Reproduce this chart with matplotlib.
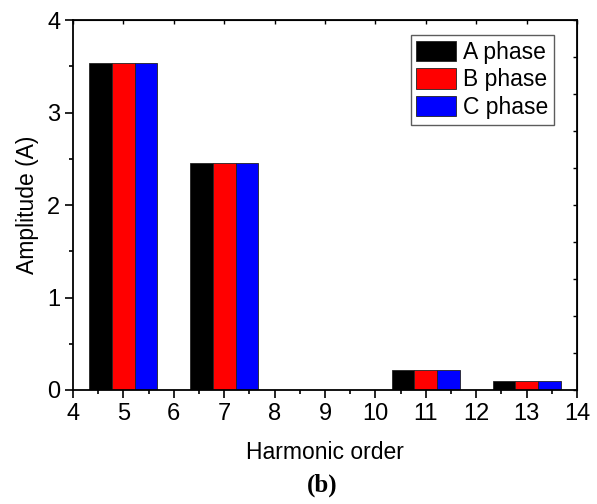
import matplotlib.pyplot as plt
import numpy as np
from matplotlib.ticker import MultipleLocator

plt.rcParams["font.family"] = ["Liberation Sans", "DejaVu Sans"]

# harmonic amplitudes per phase
orders = [5, 7, 11, 13]
phase_a = [3.54, 2.45, 0.215, 0.10]
phase_b = [3.54, 2.45, 0.215, 0.10]
phase_c = [3.54, 2.45, 0.215, 0.10]
labels = ["A phase", "B phase", "C phase"]
colors = ["#000000", "#ff0000", "#0000ff"]

fig = plt.figure(figsize=(5.97, 5.04), dpi=100)
ax = fig.add_axes([73 / 597, 1 - 390 / 504, 504 / 597, 370 / 504])

x = np.array(orders, dtype=float)
w = 0.45
for i, (vals, lab, col) in enumerate(zip([phase_a, phase_b, phase_c], labels, colors)):
    ax.bar(x + (i - 1) * w, vals, width=w, color=col, edgecolor="#222222",
           linewidth=0.6, label=lab)

ax.set_xlim(4, 14)
ax.set_ylim(0, 4)
ax.xaxis.set_major_locator(MultipleLocator(1))
ax.xaxis.set_minor_locator(MultipleLocator(0.5))
ax.yaxis.set_major_locator(MultipleLocator(1))
ax.yaxis.set_minor_locator(MultipleLocator(0.5))
ax.tick_params(which="both", direction="out", labelsize=17, width=1.2,
               top=False, right=False)
ax.tick_params(which="major", length=6, pad=3)
ax.tick_params(which="minor", length=3)
for s in ax.spines.values():
    s.set_linewidth(1.3)

# inward ticks along top and right edges
top = ax.secondary_xaxis("top")
top.xaxis.set_major_locator(MultipleLocator(1))
top.tick_params(direction="in", length=3, width=1, labeltop=False)
right = ax.secondary_yaxis("right")
right.yaxis.set_major_locator(MultipleLocator(0.4))
right.tick_params(direction="in", length=3, width=1, labelright=False)

ax.set_xlabel("Harmonic order", fontsize=16.5, labelpad=12)
ax.set_ylabel("Amplitude (A)", fontsize=16.5, labelpad=6)

leg = ax.legend(loc="upper right", bbox_to_anchor=(0.955, 0.96), fontsize=16.5,
                frameon=True, fancybox=False, edgecolor="#333333",
                handlelength=1.75, handleheight=1.0, handletextpad=0.3,
                borderpad=0.25, labelspacing=0.2, borderaxespad=0)
leg.get_frame().set_linewidth(1.0)

fig.text(322 / 597, 1 - 485 / 504, "(b)", fontsize=18, fontweight="bold",
         family="Liberation Serif", ha="center", va="center")

fig.savefig("out.png", dpi=100)
